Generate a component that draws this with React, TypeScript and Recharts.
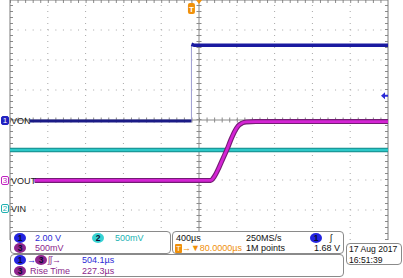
import React from "react";
import {
  ComposedChart,
  Line,
  XAxis,
  YAxis,
  ReferenceLine,
  ReferenceDot,
} from "recharts";

// time in µs relative to trigger, volts per channel
const von_low = [
  { t: -1710, v: 0 },
  { t: 0, v: 0 },
];
const von_edge = [
  { t: 0, v: 0 },
  { t: 0, v: 5.05 },
];
const von_high = [
  { t: 0, v: 5.12 },
  { t: 30, v: 5.05 },
  { t: 2080, v: 5.05 },
];
const vin = [
  { t: -1920, v: 0.983 },
  { t: 2080, v: 0.983 },
];
const vout = [
  { t: -1660, v: 0.01 },
  { t: 204, v: 0.01 },
  { t: 245, v: 0.08 },
  { t: 290, v: 0.22 },
  { t: 335, v: 0.38 },
  { t: 375, v: 0.52 },
  { t: 415, v: 0.68 },
  { t: 455, v: 0.82 },
  { t: 495, v: 0.92 },
  { t: 535, v: 0.965 },
  { t: 580, v: 0.985 },
  { t: 680, v: 0.99 },
  { t: 2080, v: 0.99 },
];

const gridX = [-1520, -1120, -720, -320, 480, 880, 1280, 1680];
const gridY = [1, 2, 3, 5, 6, 7];
const trigLevel = 1.68;

const FONT = "'Liberation Sans', Arial, sans-serif";
const BLUE = "#2b2bd6";
const CYAN = "#22b4b4";
const PURPLE = "#8c1f8c";
const ORANGE = "#f0900a";
const GRID = "#a8a8a8";

function Txt({ x, y, color = "#111", children, size = 9, right }: any) {
  return (
    <div
      style={{
        position: "absolute",
        left: right ? undefined : x,
        right: right ? 403 - x : undefined,
        top: y - 6,
        height: 12,
        lineHeight: "12px",
        fontSize: size,
        fontFamily: FONT,
        color,
        whiteSpace: "nowrap",
      }}
    >
      {children}
    </div>
  );
}

function Oval({ x, y, fill, label }: any) {
  return (
    <div
      style={{
        position: "absolute",
        left: x,
        top: y - 5,
        width: 12,
        height: 10,
        borderRadius: "50%",
        background: fill,
        color: "#0a0a30",
        fontSize: 8.5,
        fontWeight: "bold",
        lineHeight: "10px",
        textAlign: "center",
        fontFamily: FONT,
      }}
    >
      {label}
    </div>
  );
}

function ChTag({ y, label, color, filled, name }: any) {
  return (
    <>
      <div
        style={{
          position: "absolute",
          left: 1,
          top: y - 5,
          width: 8,
          height: 9,
          boxSizing: "border-box",
          border: `1px solid ${color}`,
          borderRadius: 2,
          background: filled ? color : "#fff",
          color: filled ? "#fff" : color,
          fontSize: 8,
          lineHeight: "8px",
          textAlign: "center",
          fontFamily: FONT,
        }}
      >
        {label}
      </div>
      <Txt x={11} y={y} color="#222" size={9}>
        {name}
      </Txt>
    </>
  );
}

const boxStyle = (l: number, t: number, w: number, h: number): any => ({
  position: "absolute",
  left: l,
  top: t,
  width: w,
  height: h,
  boxSizing: "border-box",
  border: "1px solid #8a8a8a",
  borderRadius: 4,
  background: "#fff",
});

const TrigShape = (p: any) => (
  <g>
    <rect x={p.cx - 3.5} y={3} width={7} height={11} rx={2} fill={ORANGE} />
    <text x={p.cx} y={11.5} fontSize={8} fill="#fff" textAnchor="middle" fontFamily={FONT} fontWeight="bold">
      T
    </text>
  </g>
);

const ExpShape = (p: any) => (
  <path d={`M${p.cx - 3},0 L${p.cx + 3},0 L${p.cx},4 Z`} fill={ORANGE} />
);

const LevelShape = (p: any) => (
  <path
    d={`M${p.cx - 7},${p.cy} L${p.cx - 3},${p.cy - 3.5} L${p.cx - 3},${p.cy - 1} L${p.cx},${p.cy - 1} L${p.cx},${p.cy + 1} L${p.cx - 3},${p.cy + 1} L${p.cx - 3},${p.cy + 3.5} Z`}
    fill={BLUE}
  />
);

export default function App() {
  return (
    <div style={{ position: "relative", width: 403, height: 278, background: "#fff", overflow: "hidden" }}>
      <style>{`body{margin:0}`}</style>
      <ComposedChart width={403} height={278} margin={{ top: 0, right: 15, bottom: 38, left: 10 }}>
        <XAxis type="number" dataKey="t" domain={[-1920, 2080]} hide allowDataOverflow />
        <YAxis yAxisId="div" type="number" domain={[0, 8]} hide allowDataOverflow />
        <YAxis yAxisId="c1" type="number" domain={[-7.93, 8.07]} hide allowDataOverflow />
        <YAxis yAxisId="c2" type="number" domain={[-0.517, 3.483]} hide allowDataOverflow />
        <YAxis yAxisId="c3" type="number" domain={[-0.983, 3.017]} hide allowDataOverflow />

        {gridX.map((x) => (
          <ReferenceLine key={"gx" + x} x={x} yAxisId="div" stroke={GRID} strokeDasharray="1 5" />
        ))}
        {gridY.map((y) => (
          <ReferenceLine key={"gy" + y} y={y} yAxisId="div" stroke={GRID} strokeDasharray="1 6.56" />
        ))}
        <ReferenceLine x={80} yAxisId="div" stroke="#8a8a8a" />
        <ReferenceLine y={4} yAxisId="div" stroke="#8a8a8a" />
        <ReferenceLine x={80} yAxisId="div" stroke="#8a8a8a" strokeWidth={5} strokeDasharray="1 5" />
        <ReferenceLine y={4} yAxisId="div" stroke="#8a8a8a" strokeWidth={5} strokeDasharray="1 6.56" />
        <ReferenceLine x={-1904} yAxisId="div" stroke="#8a8a8a" strokeWidth={3} strokeDasharray="1 5" />
        <ReferenceLine x={2064} yAxisId="div" stroke="#8a8a8a" strokeWidth={3} strokeDasharray="1 5" />
        <ReferenceLine y={7.95} yAxisId="div" stroke="#8a8a8a" strokeWidth={3} strokeDasharray="1 6.56" />
        <ReferenceLine x={-1920} yAxisId="div" stroke="#7a7a7a" />
        <ReferenceLine x={2080} yAxisId="div" stroke="#7a7a7a" />
        <ReferenceLine y={8} yAxisId="div" stroke="#7a7a7a" />

        <Line data={vin} dataKey="v" yAxisId="c2" stroke="#168a8a" strokeWidth={4.5} dot={false} isAnimationActive={false} />
        <Line data={vin} dataKey="v" yAxisId="c2" stroke="#2cc8c8" strokeWidth={2.5} dot={false} isAnimationActive={false} />

        <Line data={von_edge} dataKey="v" yAxisId="c1" stroke="#9e9ed2" strokeWidth={1} dot={false} isAnimationActive={false} />
        <Line data={von_low} dataKey="v" yAxisId="c1" stroke="#1a1a86" strokeWidth={3} dot={false} isAnimationActive={false} />
        <Line data={von_high} dataKey="v" yAxisId="c1" stroke="#1a1aa0" strokeWidth={3.5} dot={false} isAnimationActive={false} />

        <Line data={vout} dataKey="v" yAxisId="c3" type="monotone" stroke="#741c74" strokeWidth={5} dot={false} isAnimationActive={false} />
        <Line data={vout} dataKey="v" yAxisId="c3" type="monotone" stroke="#d424d4" strokeWidth={2.8} dot={false} isAnimationActive={false} />

        <ReferenceDot x={0} y={7.7} yAxisId="div" r={0} shape={TrigShape} />
        <ReferenceDot x={80} y={8} yAxisId="div" r={0} shape={ExpShape} />
        <ReferenceDot x={2080} y={trigLevel} yAxisId="c1" r={0} shape={LevelShape} ifOverflow="visible" />
      </ComposedChart>

      <ChTag y={121} label="1" color="#2222c0" filled name="VON" />
      <ChTag y={181} label="3" color="#c020c0" name="VOUT" />
      <ChTag y={209} label="2" color="#20b0b0" name="VIN" />

      <div style={boxStyle(10, 231, 161, 23)} />
      <div style={boxStyle(172, 231, 172, 23)} />
      <div style={boxStyle(10, 254, 334, 23)} />
      <div style={boxStyle(346, 243, 56, 22)} />

      <Oval x={14} y={237.5} fill="#2323e0" label="1" />
      <Txt x={35} y={237.5} color={BLUE}>2.00 V</Txt>
      <Oval x={92} y={237.5} fill="#36d2d2" label="2" />
      <Txt x={115} y={237.5} color={CYAN}>500mV</Txt>
      <Oval x={14} y={247.5} fill="#8e248e" label="3" />
      <Txt x={35} y={247.5} color={PURPLE}>500mV</Txt>

      <Txt x={176} y={237.5}>400µs</Txt>
      <Txt x={246} y={237.5}>250MS/s</Txt>
      <Oval x={310} y={237.5} fill="#2323e0" label="1" />
      <Txt x={330} y={237.5}>ʃ</Txt>
      <Txt x={175} y={247.5} color={ORANGE}>
        <span style={{ background: ORANGE, color: "#fff", borderRadius: 1, padding: "0 1px", fontSize: 8 }}>T</span>→▼80.0000µs
      </Txt>
      <Txt x={246} y={247.5}>1M points</Txt>
      <Txt x={340} y={247.5} right>1.68 V</Txt>

      <Oval x={14} y={260} fill="#2323e0" label="1" />
      <Txt x={27} y={260} color={BLUE}>→</Txt>
      <Oval x={35} y={260} fill="#8e248e" label="3" />
      <Txt x={48} y={260} color={PURPLE}>ʃʃ→</Txt>
      <Txt x={82} y={260} color={BLUE}>504.1µs</Txt>
      <Oval x={14} y={271} fill="#8e248e" label="3" />
      <Txt x={30} y={271} color={PURPLE}>Rise Time</Txt>
      <Txt x={82} y={271} color={PURPLE}>227.3µs</Txt>

      <Txt x={349} y={249} size={8.6}>17 Aug 2017</Txt>
      <Txt x={349} y={260} size={8.6}>16:51:39</Txt>
    </div>
  );
}
